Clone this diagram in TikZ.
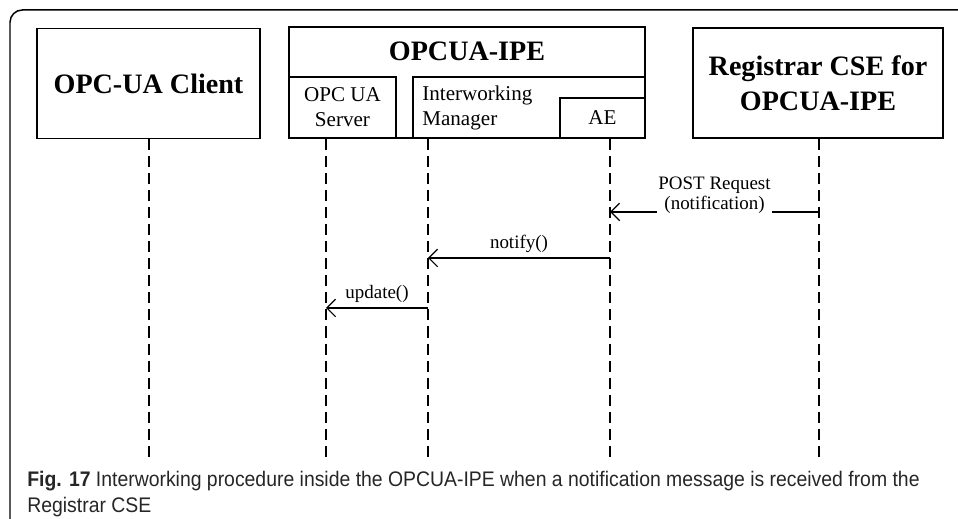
\documentclass[tikz,border=0pt]{standalone}
\usepackage{fontspec}
\setmainfont{Liberation Serif}
\newfontfamily\capfont[FakeStretch=0.92]{Liberation Sans}
\usetikzlibrary{arrows.meta}

\begin{document}
\begin{tikzpicture}[x=0.02cm, y=-0.02cm,
    box/.style={draw, line width=0.85pt, inner sep=0pt},
    lifeline/.style={line width=0.7pt, dash pattern=on 6.3pt off 3.4pt},
    msg/.style={line width=0.7pt, -{Straight Barb[length=5pt,width=10pt,line width=0.7pt]}},
    msglabel/.style={font=\fontsize{10.8}{11.6}\selectfont, inner sep=1pt, align=center}]
      % \draw[very thin, gray, step=50] (0,0) grid (958,519);
      \useasboundingbox (0,0) rectangle (958,519);
      \draw[line width=0.85pt, rounded corners=7pt] (10,519) -- (10,10) -- (960,10);

      % participants
      \node[box, minimum width=4.46cm, minimum height=2.2cm, font=\fontsize{16}{20}\selectfont\bfseries] (client) at (148.5,83.5) {OPC-UA Client};

      \node[box, minimum width=7.12cm, minimum height=2.22cm] (ipe) at (467,82.5) {};
      \node[font=\fontsize{16}{20}\selectfont\bfseries] (ipetitle) at (467,51) {OPCUA-IPE};
      \node[box, minimum width=2.14cm, minimum height=1.22cm, align=center, font=\fontsize{12}{14.2}\selectfont] (server) at (342.5,107.5) {OPC UA\\Server};
      \node[box, minimum width=4.64cm, minimum height=1.22cm] (manager) at (529,107.5) {};
      \node[anchor=west, align=left, inner sep=0pt, font=\fontsize{12}{14.2}\selectfont] (managertext) at (422,108) {Interworking\\Manager};
      \node[box, minimum width=1.7cm, minimum height=0.8cm, font=\fontsize{12}{14.2}\selectfont] (ae) at (602.5,118) {AE};

      \node[box, minimum width=5cm, minimum height=2.2cm, align=center, font=\fontsize{16}{20}\selectfont\bfseries] (registrar) at (818,83) {Registrar CSE for\\OPCUA-IPE};

      % lifelines
      \foreach \n/\x in {client/149, server/326, manager/428, ae/610, registrar/819} {
        \coordinate (\n top) at (\x,139);
        \coordinate (\n end) at (\x,458);
        \draw[lifeline] (\n top) -- (\n end);
      }

      % messages
      \coordinate (post from) at (819,212);
      \coordinate (post to) at (610,212);
      \draw[msg] (post from) -- (post to) node[midway, msglabel, fill=white, yshift=9.5pt] (post) {POST Request\\(notification)};

      \coordinate (notify from) at (610,258);
      \coordinate (notify to) at (428,258);
      \draw[msg] (notify from) -- (notify to) node[midway, msglabel, above=2pt] (notify) {notify()};

      \coordinate (update from) at (428,308);
      \coordinate (update to) at (326,308);
      \draw[msg] (update from) -- (update to) node[midway, msglabel, above=2pt] (update) {update()};

      % caption
      \node[anchor=base west, align=left, inner sep=0pt, text=black!85, font=\capfont\fontsize{12}{14.8}\selectfont] (caption) at (27,513)
        {\textbf{Fig. 17} Interworking procedure inside the OPCUA-IPE when a notification message is received from the\\Registrar CSE};
\end{tikzpicture}
\end{document}
